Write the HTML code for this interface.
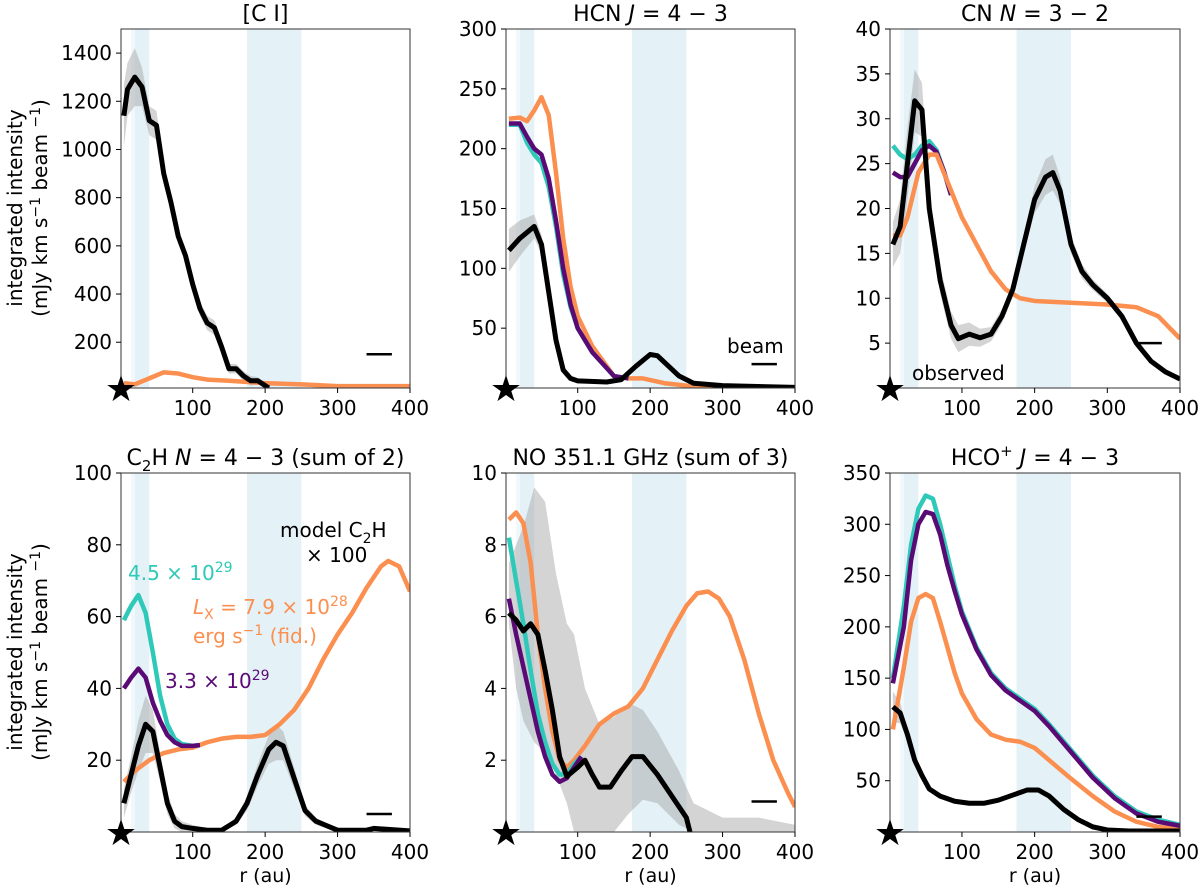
<!DOCTYPE html>
<html><head><meta charset="utf-8"><style>
body{margin:0;background:#fff}
svg text{font-family:"DejaVu Sans","Liberation Sans",sans-serif;fill:#000}
</style></head><body>
<svg id="fig" width="1200" height="888" viewBox="0 0 1200 888" xmlns="http://www.w3.org/2000/svg"></svg>
<script>
// ---- data ----
const xTicks=[100,200,300,400];
// Panel 1 [C I]
const p1ObsX=[5,10,20,30,40,50,60,70,80,90,100,110,120,130,140,150,160,170,180,190,200,205];
const p1ObsY=[1140,1250,1300,1260,1120,1100,900,780,640,560,440,340,280,260,180,90,90,60,40,40,20,10];
const p1ObsE=[130,110,120,80,60,60,40,30,30,30,30,30,30,30,30,20,20,20,20,15,10,5];
const p1OrX=[5,20,40,60,80,100,120,150,200,250,300,400];
const p1OrY=[30,25,50,75,70,55,45,40,30,25,18,18];
const p1Ticks=[200,400,600,800,1000,1200,1400];
// Panel 2 HCN
const p2ObsX=[5,20,40,50,60,70,80,90,100,140,160,180,200,210,240,260,300,400];
const p2ObsY=[115,125,135,120,80,40,15,8,6,5,7,18,28,27,10,4,2,0.5];
const p2ObsE=[18,15,10,8,5,4,3,2,2,1,1,2,2,2,1,1,0.5,0.3];
const p2OrX=[5,20,30,40,50,60,70,80,90,100,120,150,170,190,220,250,300,400];
const p2OrY=[225,226,223,232,243,228,180,125,85,60,35,10,8,8,4,2,1,0.5];
const p2TeX=[5,20,30,40,50,60,70,80,90,100,120,150,170];
const p2TeY=[220,220,205,195,188,168,135,95,68,50,30,10,8];
const p2PuX=[5,20,30,40,50,60,70,80,90,100,120,150,170];
const p2PuY=[221,221,210,200,195,175,140,100,70,50,30,10,8];
const p2Ticks=[50,100,150,200,250,300];
// Panel 3 CN
const p3ObsX=[5,15,25,35,45,55,70,85,95,110,125,140,155,170,185,200,215,225,235,250,265,280,300,320,340,360,380,400];
const p3ObsY=[16,18,25,32,31,20,12,7,5.5,6,5.6,6,8,11,16,21,23.5,24,22,16,13,11.5,10,8,5,3,1.8,1];
const p3ObsE=[2.5,3,4,3.5,3,2,1.5,1.5,1.5,1.3,1,0.8,0.8,0.8,1,1.5,2,2,1.5,1,0.8,0.6,0.5,0.5,0.4,0.3,0.3,0.2];
const p3OrX=[5,15,25,40,55,65,80,100,120,140,160,180,200,250,300,340,370,400];
const p3OrY=[17,17,19,24,26,26,23,19,16,13,11,10,9.7,9.5,9.3,9,8,5.5];
const p3TeX=[5,15,25,35,45,55,65,75,85];
const p3TeY=[27,26,25.5,26,27,27.5,26.5,24.2,21.5];
const p3PuX=[5,15,25,35,45,55,65,75,85];
const p3PuY=[24,23.5,23.5,25,26.5,27,26.3,24.2,21.5];
const p3Ticks=[5,10,15,20,25,30,35,40];
// Panel 4 C2H
const p4ObsX=[5,15,25,35,45,55,65,75,85,100,120,140,160,175,190,205,215,225,240,255,270,300,340,350,400];
const p4ObsY=[8,16,24,30,28,18,8,3,1.5,1,0.5,0.5,3,8,16,23,25,24,15,6,3,0.5,0.5,1,0.3];
const p4ObsE=[4,5,7,8,6,4,3,2,1.5,1,0.5,0.5,1,2,3,4,5,4,3,1.5,1,0.5,0.5,0.5,0.3];
const p4OrX=[5,20,40,60,80,100,120,140,160,180,200,220,240,260,280,300,320,340,360,370,385,400];
const p4OrY=[14,17,20,22,23,23.5,25,26,26.5,26.5,27,30,34,40,48,55,61,68,74,75.5,74,67];
const p4TeX=[5,15,25,35,45,55,65,75,85,100,110];
const p4TeY=[59,63,66,61,50,38,30,26,24.5,24,24.2];
const p4PuX=[5,15,25,35,45,55,65,75,85,100,110];
const p4PuY=[40,43,45.5,43,36,31,27,25,24,24,24.2];
const p4Ticks=[20,40,60,80,100];
// Panel 5 NO
const p5ObsX=[5,15,25,35,45,55,65,75,85,100,110,120,130,145,160,175,190,210,230,250,255];
const p5ObsY=[6.1,5.9,5.6,5.8,5.5,4.5,3.4,2.1,1.55,1.8,2.0,1.6,1.25,1.25,1.7,2.1,2.1,1.6,1.0,0.4,0];
const p5BandX=[5,15,25,40,55,70,85,95,110,130,150,170,190,210,240,260,300,350,400];
const p5BandHi=[7.5,8,8.5,9.6,9.2,7.2,5.8,5.5,4,3,3.2,3.6,3.4,2.8,1.7,0.8,0.4,0.4,0.2];
const p5BandLo=[5.8,4,3.1,2.5,2.2,1.6,0.8,0,0,0,0,0.5,0.9,0.8,0.2,0,0,0,0];
const p5OrX=[5,15,25,35,45,55,65,75,85,95,110,130,150,170,190,210,230,250,265,280,295,310,330,350,370,390,400];
const p5OrY=[8.7,8.9,8.6,7.5,5.5,4,2.8,2,1.8,2,2.4,3,3.3,3.5,4,4.8,5.6,6.3,6.65,6.7,6.5,6,4.8,3.3,2,1.1,0.7];
const p5TeX=[5,15,25,35,45,55,65,75,85,95,105];
const p5TeY=[8.2,7,5.8,4.5,3.3,2.5,1.9,1.6,1.6,1.9,2.1];
const p5PuX=[5,15,25,35,45,55,65,75,85,95,105];
const p5PuY=[6.5,5.5,4.6,3.7,2.8,2.1,1.6,1.4,1.5,1.8,2.1];
const p5Ticks=[2,4,6,8,10];
// Panel 6 HCO+
const p6ObsX=[5,15,25,35,45,55,70,90,110,130,150,170,190,205,220,240,260,280,300,330,400];
const p6ObsY=[122,116,95,70,55,42,35,30,28,28,31,36,41,41,35,22,12,5,2,1,1];
const p6ObsE=[15,10,6,4,3,2,2,2,2,2,2,2,2,2,2,2,1,1,1,1,1];
const p6OrX=[5,20,30,40,50,60,70,80,90,100,120,140,160,180,200,220,250,280,310,340,370,400];
const p6OrY=[100,160,205,228,232,228,205,180,155,135,110,95,90,88,82,70,52,35,20,10,5,3];
const p6TeX=[5,20,30,40,50,60,70,80,90,100,120,140,160,180,200,220,250,280,310,340,370,400];
const p6TeY=[150,220,280,315,328,325,300,270,240,215,180,155,140,130,120,105,80,55,35,20,12,7];
const p6PuX=[5,20,30,40,50,60,70,80,90,100,120,140,160,180,200,220,250,280,310,340,370,400];
const p6PuY=[145,200,265,300,312,310,290,260,235,212,178,153,138,128,118,103,78,53,33,18,10,6];
const p6Ticks=[50,100,150,200,250,300,350];

const C={or:'#fb8f4f',te:'#2ec9b8',pu:'#5a0a75',ob:'#000'};
const svg=document.getElementById('fig');
const NS='http://www.w3.org/2000/svg';
function mk(tag,attrs,parent){const e=document.createElementNS(NS,tag);for(const k in attrs)e.setAttribute(k,attrs[k]);(parent||svg).appendChild(e);return e;}

const panels=[
 {id:'ci',L:121,R:410,T:29,B:388,ymin:10,ymax:1500,ticks:p1Ticks,title:'[C I]',obsX:p1ObsX,obsY:p1ObsY,obsE:p1ObsE,series:[[p1OrX,p1OrY,C.or]],beam:150,xl:false},
 {id:'hcn',L:506,R:795,T:29,B:388,ymin:0,ymax:300,ticks:p2Ticks,title:'HCN <tspan font-style="italic">J</tspan> = 4 − 3',obsX:p2ObsX,obsY:p2ObsY,obsE:p2ObsE,series:[[p2OrX,p2OrY,C.or],[p2TeX,p2TeY,C.te],[p2PuX,p2PuY,C.pu]],beam:20,xl:false},
 {id:'cn',L:890,R:1180,T:29,B:388,ymin:0,ymax:40,ticks:p3Ticks,title:'CN <tspan font-style="italic">N</tspan> = 3 − 2',obsX:p3ObsX,obsY:p3ObsY,obsE:p3ObsE,series:[[p3TeX,p3TeY,C.te],[p3PuX,p3PuY,C.pu],[p3OrX,p3OrY,C.or]],beam:5,xl:false},
 {id:'c2h',L:121,R:410,T:473,B:832,ymin:0,ymax:100,ticks:p4Ticks,title:'C<tspan font-size="15" dy="6">2</tspan><tspan dy="-6">H </tspan><tspan font-style="italic">N</tspan> = 4 − 3 (sum of 2)',obsX:p4ObsX,obsY:p4ObsY,obsE:p4ObsE,series:[[p4OrX,p4OrY,C.or],[p4TeX,p4TeY,C.te],[p4PuX,p4PuY,C.pu]],beam:5,xl:true},
 {id:'no',L:506,R:795,T:473,B:832,ymin:0,ymax:10,ticks:p5Ticks,title:'NO 351.1 GHz (sum of 3)',obsX:p5ObsX,obsY:p5ObsY,bandX:p5BandX,bandHi:p5BandHi,bandLo:p5BandLo,series:[[p5OrX,p5OrY,C.or],[p5TeX,p5TeY,C.te],[p5PuX,p5PuY,C.pu]],beam:0.85,xl:true},
 {id:'hco',L:890,R:1180,T:473,B:832,ymin:0,ymax:350,ticks:p6Ticks,title:'HCO<tspan font-size="15" dy="-9">+</tspan><tspan dy="9"> </tspan><tspan font-style="italic">J</tspan> = 4 − 3',obsX:p6ObsX,obsY:p6ObsY,obsE:p6ObsE,series:[[p6OrX,p6OrY,C.or],[p6TeX,p6TeY,C.te],[p6PuX,p6PuY,C.pu]],beam:15,xl:true}
];

panels.forEach(p=>{
 const g=mk('g',{});
 
 
 const sx=v=>p.L+(v-1)/(400-1)*(p.R-p.L);
 const sy=v=>p.B-(Math.max(v,p.ymin)-p.ymin)/(p.ymax-p.ymin)*(p.B-p.T);
 const clipId='clip-'+p.id;
 const cp=mk('clipPath',{id:clipId},g);mk('rect',{x:p.L,y:p.T,width:p.R-p.L,height:p.B-p.T},cp);
 const inner=mk('g',{'clip-path':'url(#'+clipId+')'},g);
 const b0=mk('rect',{x:sx(15),y:p.T,width:sx(20)-sx(15),height:p.B-p.T,fill:'#f0f8fb'},inner);
 
 const b1=mk('rect',{x:sx(20),y:p.T,width:sx(40)-sx(20),height:p.B-p.T,fill:'#e4f2f8'},inner);
 
 const b2=mk('rect',{x:sx(175),y:p.T,width:sx(250)-sx(175),height:p.B-p.T,fill:'#e4f2f8'},inner);
 
 let hiPts,loPts;
 if(p.bandX){hiPts=p.bandX.map((x,i)=>[sx(x),sy(p.bandHi[i])]);loPts=p.bandX.map((x,i)=>[sx(x),sy(p.bandLo[i])]);}
 else{hiPts=p.obsX.map((x,i)=>[sx(x),sy(p.obsY[i]+p.obsE[i])]);loPts=p.obsX.map((x,i)=>[sx(x),sy(p.obsY[i]-p.obsE[i])]);}
 const poly=hiPts.concat(loPts.reverse()).map(q=>q.join(',')).join(' ');
 const eb=mk('polygon',{points:poly,fill:'#a0a0a0','fill-opacity':'0.45'},inner);
 
 p.series.forEach(s=>{
  const pl=mk('polyline',{points:s[0].map((x,i)=>sx(x)+','+sy(s[1][i])).join(' '),fill:'none',stroke:s[2],'stroke-width':4.5,'stroke-linejoin':'round'},inner);
  
  
 });
 const ol=mk('polyline',{points:p.obsX.map((x,i)=>sx(x)+','+sy(p.obsY[i])).join(' '),fill:'none',stroke:'#000','stroke-width':5,'stroke-linejoin':'round'},inner);
 
 const bm=mk('line',{x1:sx(340),x2:sx(375),y1:sy(p.beam),y2:sy(p.beam),stroke:'#000','stroke-width':2.5},g);
 
 const fr=mk('rect',{x:p.L,y:p.T,width:p.R-p.L,height:p.B-p.T,fill:'none',stroke:'#333','stroke-width':1},g);
 
 xTicks.forEach(t=>{
  mk('line',{x1:sx(t),x2:sx(t),y1:p.B,y2:p.B+5,stroke:'#000'},g);
  const tx=mk('text',{x:sx(t),y:p.B+27,'text-anchor':'middle','font-size':20},g);tx.textContent=t;
  
 });
 p.ticks.forEach(t=>{
  mk('line',{x1:p.L-5,x2:p.L,y1:sy(t),y2:sy(t),stroke:'#000'},g);
  const ty=mk('text',{x:p.L-9,y:sy(t)+7,'text-anchor':'end','font-size':20},g);ty.textContent=t;
  
 });
 const st=mk('text',{x:p.L,y:p.B+13,'text-anchor':'middle','font-size':36},g);st.textContent='★';
 
 const ti=mk('text',{x:(p.L+p.R)/2,y:p.T-8,'text-anchor':'middle','font-size':22},g);ti.innerHTML=p.title;
 
 if(p.xl){const xl=mk('text',{x:(p.L+p.R)/2,y:p.B+50,'text-anchor':'middle','font-size':19},g);xl.textContent='r (au)';
  }
});
</script>
<svg style="position:absolute;left:0;top:0" width="1200" height="888">
 <g font-family="DejaVu Sans, Liberation Sans, sans-serif" font-size="20">
  <text transform="translate(22,208) rotate(-90)" text-anchor="middle">integrated intensity</text>
  <text transform="translate(47,208) rotate(-90)" text-anchor="middle">(mJy km s<tspan font-size="14" dy="-7">−1</tspan><tspan dy="7"> beam </tspan><tspan font-size="14" dy="-7">−1</tspan><tspan dy="7">)</tspan></text>
  <text transform="translate(22,652) rotate(-90)" text-anchor="middle">integrated intensity</text>
  <text transform="translate(47,652) rotate(-90)" text-anchor="middle">(mJy km s<tspan font-size="14" dy="-7">−1</tspan><tspan dy="7"> beam </tspan><tspan font-size="14" dy="-7">−1</tspan><tspan dy="7">)</tspan></text>
  <text x="727" y="353">beam</text>
  <text x="912" y="380">observed</text>
  <text x="280" y="537">model C<tspan font-size="14" dy="6">2</tspan><tspan dy="-6">H</tspan></text>
  <text x="306" y="562">× 100</text>
  <text x="128" y="580" style="fill:#2ec9b8">4.5 × 10<tspan font-size="14" dy="-8">29</tspan></text>
  <text x="193" y="614" style="fill:#fb8f4f"><tspan font-style="italic">L</tspan><tspan font-size="14" dy="5">X</tspan><tspan dy="-5"> = 7.9 × 10</tspan><tspan font-size="14" dy="-8">28</tspan></text>
  <text x="193" y="643" style="fill:#fb8f4f">erg s<tspan font-size="14" dy="-8">−1</tspan><tspan dy="8"> (fid.)</tspan></text>
  <text x="165" y="688" style="fill:#5a0a75">3.3 × 10<tspan font-size="14" dy="-8">29</tspan></text>
 </g>
</svg>
</body></html>
